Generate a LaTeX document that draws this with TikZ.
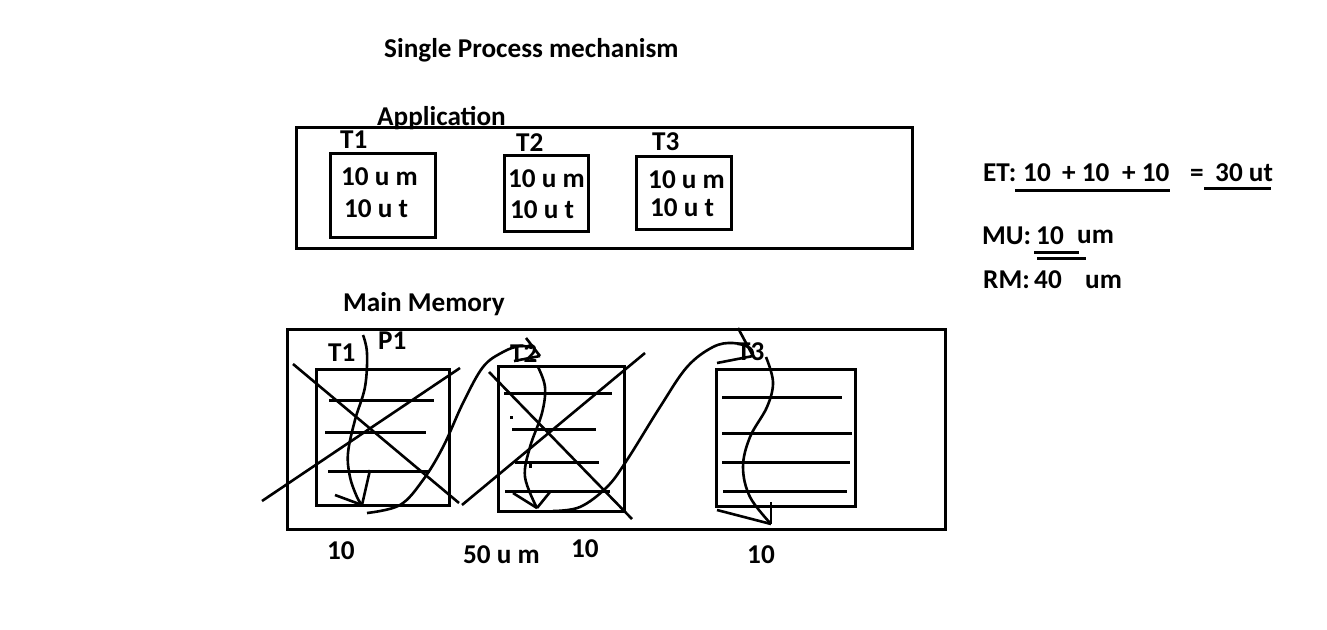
\documentclass[tikz,border=0pt]{standalone}
\usepackage{fontspec}
\setmainfont{Carlito}
\begin{document}
\begin{tikzpicture}[x=1pt,y=-1pt,
  lbl/.style={anchor=base west,inner sep=0pt,font=\fontsize{27.2}{32}\selectfont\bfseries},
  box/.style={draw,line width=3pt,inner sep=0pt,anchor=north west},
  rule/.style={line width=3pt},
  stroke/.style={line width=2.6pt},
  crv/.style={line width=2.6pt,smooth,tension=0.6}]
\useasboundingbox[fill=white] (0,0) rectangle (1327,629);
% title
\node[lbl] (title) at (384,57) {Single Process mechanism};
% application
\node[box,minimum width=616pt,minimum height=121pt] (app) at (295,126) {};
\node[lbl] (applbl) at (377,125) {Application};
\node[box,minimum width=105pt,minimum height=84pt] (a1) at (329,152) {};
\node[box,minimum width=84pt,minimum height=76pt] (a2) at (503,154) {};
\node[box,minimum width=95pt,minimum height=73pt] (a3) at (635,155) {};
\node[lbl] (a1t) at (340,148) {T1};
\node[lbl] (a2t) at (516,151) {T2};
\node[lbl] (a3t) at (652,150) {T3};
\node[lbl] (a1m) at (341,185) {10 u m};
\node[lbl] (a1u) at (344,217) {10 u t};
\node[lbl] (a2m) at (508,187) {10 u m};
\node[lbl] (a2u) at (510,218) {10 u t};
\node[lbl] (a3m) at (648,188) {10 u m};
\node[lbl] (a3u) at (650,216) {10 u t};
% right side
\node[lbl] (et) at (983,181) {ET:};
\node[lbl] (et1) at (1023,181) {10};
\node[lbl] (et2) at (1062,181) {+ 10};
\node[lbl] (et3) at (1122,181) {+ 10};
\node[lbl] (eq) at (1190,181) {=};
\node[lbl] (res) at (1215,181) {30 ut};
\coordinate (u1a) at (1015,190); \coordinate (u1b) at (1170,190);
\coordinate (u2a) at (1204,188); \coordinate (u2b) at (1271,188);
\draw[rule] (u1a) -- (u1b);
\draw[rule] (u2a) -- (u2b);
\node[lbl] (mu) at (982,244) {MU:};
\node[lbl] (mu1) at (1036,244) {10};
\node[lbl] (mu2) at (1077,243) {um};
\coordinate (m1a) at (1034,252); \coordinate (m1b) at (1079,252);
\coordinate (m2a) at (1037,258); \coordinate (m2b) at (1086,258);
\draw[rule] (m1a) -- (m1b);
\draw[rule] (m2a) -- (m2b);
\node[lbl] (rm) at (983,288) {RM:};
\node[lbl] (rm1) at (1034,288) {40};
\node[lbl] (rm2) at (1085,288) {um};
% main memory
\node[lbl] (mmlbl) at (343,311) {Main Memory};
\node[box,minimum width=658pt,minimum height=200pt] (mm) at (286,328) {};
\node[box,minimum width=133pt,minimum height=136pt] (m1) at (315,368) {};
\node[box,minimum width=126pt,minimum height=145pt] (m2) at (497,365) {};
\node[box,minimum width=139pt,minimum height=137pt] (m3) at (715,368) {};
\node[lbl] (m1t) at (328,361) {T1};
\node[lbl] (p1) at (378,349) {P1};
\node[lbl] (m2t) at (510,362) {T2};
\node[lbl] (m3t) at (737,360) {T3};
% lines in T1
\draw[rule] (329,400) -- (434,400);
\draw[rule] (325,432) -- (426,432);
\draw[rule] (328,471) -- (430,471);
% lines in T2
\draw[rule] (504,393) -- (612,393);
\draw[rule] (512,429) -- (596,429);
\draw[rule] (515,462) -- (599,462);
\draw[rule] (505,491) -- (610,491);
\fill (510,416) rectangle (513,419);
\fill (529,463) rectangle (532,468);
% lines in T3
\draw[rule] (722,397) -- (842,397);
\draw[rule] (722,433) -- (852,433);
\draw[rule] (722,462) -- (850,462);
\draw[rule] (723,491) -- (847,491);
% crosses
\draw[stroke] (293,364) -- (459,503);
\draw[stroke] (262,501) -- (460,368);
\draw[stroke] (489,372) -- (632,519);
\draw[stroke] (462,505) -- (645,353);
% flow curves
\coordinate (c1s) at (363,335); \coordinate (c1e) at (362,505);
\draw[crv] plot coordinates {(c1s) (367,353) (365,387) (355,420) (348,453) (350,477) (357,497) (c1e)};
\draw[stroke] (335,495) -- (c1e);
\draw[stroke] (370,470) -- (c1e);
\coordinate (s1s) at (367,513); \coordinate (s1e) at (532,348);
\draw[crv] plot coordinates {(s1s) (400,505) (423,480) (443,447) (463,403) (483,367) (503,352) (520,346) (s1e)};
\coordinate (h1) at (540,356);
\draw[stroke] (526,338) -- (h1);
\draw[stroke] (514,361) -- (h1);
\coordinate (c2s) at (538,367); \coordinate (c2e) at (537,508);
\draw[crv] plot coordinates {(c2s) (545,387) (542,413) (530,447) (525,477) (c2e)};
\draw[stroke] (513,493) -- (c2e);
\draw[stroke] (550,492) -- (c2e);
\coordinate (s2s) at (553,511); \coordinate (s2e) at (753,356);
\draw[crv] plot coordinates {(s2s) (580,507) (607,487) (627,460) (660,407) (687,367) (713,347) (733,343) (750,348) (s2e)};
\draw[stroke] (738,328) -- (s2e);
\draw[stroke] (717,363) -- (s2e);
\coordinate (c3s) at (766,357); \coordinate (c3e) at (771,524);
\draw[crv] plot coordinates {(c3s) (773,382) (767,407) (750,437) (743,467) (750,497) (c3e)};
\draw[stroke] (717,510) -- (c3e);
\draw[stroke] (771,502) -- (c3e);
% bottom labels
\node[lbl] (b1) at (327,559) {10};
\node[lbl] (b2) at (463,563) {50 u m};
\node[lbl] (b3) at (571,557) {10};
\node[lbl] (b4) at (747,563) {10};
\end{tikzpicture}
\end{document}
